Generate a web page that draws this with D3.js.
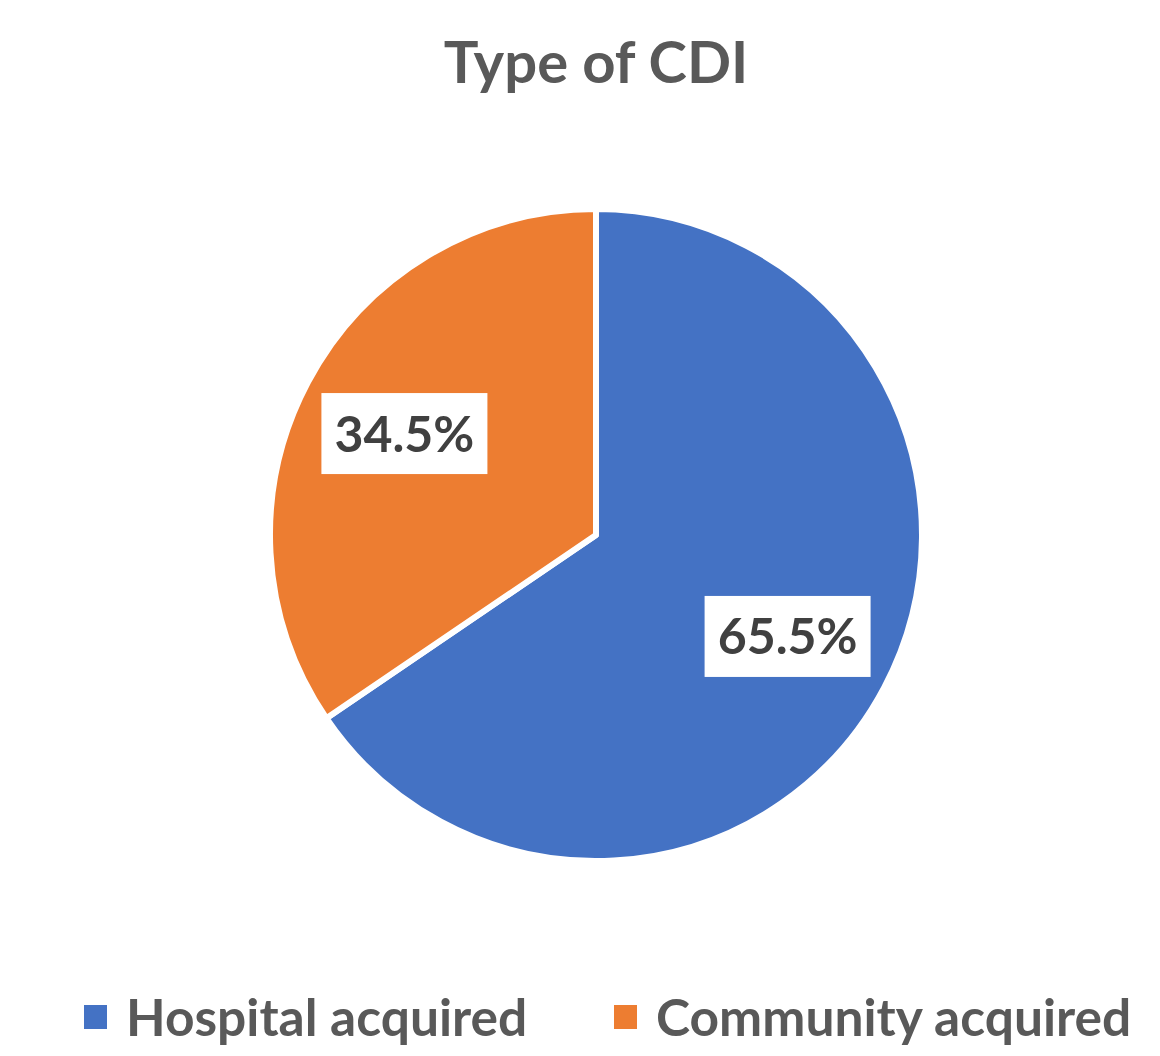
<!DOCTYPE html>
<html>
<head>
<meta charset="utf-8">
<script src="https://cdn.jsdelivr.net/npm/d3@7"></script>
<style>
  body { margin: 0; background: #fff; }
  svg { display: block; }
</style>
</head>
<body>
<div id="chart"></div>
<script>
const categories = ['Hospital acquired', 'Community acquired'];
const values = [65.5, 34.5];
const colors = ['#4472C4', '#ED7D31'];
const title = 'Type of CDI';

const width = 1160, height = 1056;
const cx = 596, cy = 535, radius = 326;
const font = 'Lato, "Open Sans", sans-serif';

const svg = d3
  .select('#chart')
  .append('svg')
  .attr('width', width)
  .attr('height', height);

// Title
svg
  .append('text')
  .attr('x', cx)
  .attr('y', 83)
  .attr('text-anchor', 'middle')
  .style('font-family', font)
  .style('font-weight', 'bold')
  .style('font-size', '58px')
  .style('fill', '#595959')
  .text(title);

const data = categories.map((c, i) => ({ name: c, value: values[i], color: colors[i] }));

const pie = d3.pie().sort(null).value((d) => d.value);
const arc = d3.arc().innerRadius(0).outerRadius(radius);
const labelArc = d3.arc().innerRadius(radius * 0.665).outerRadius(radius * 0.665);

const g = svg.append('g').attr('transform', `translate(${cx},${cy})`);

g.selectAll('path')
  .data(pie(data))
  .enter()
  .append('path')
  .attr('d', arc)
  .attr('fill', (d) => d.data.color)
  .attr('stroke', '#fff')
  .attr('stroke-width', 6)
  .attr('stroke-linejoin', 'round');

// Data labels in white boxes
const boxW = 166, boxH = 81;
const labels = g
  .selectAll('.label')
  .data(pie(data))
  .enter()
  .append('g')
  .attr('class', 'label')
  .attr('transform', (d) => `translate(${labelArc.centroid(d)})`);

labels
  .append('rect')
  .attr('x', -boxW / 2)
  .attr('y', -boxH / 2)
  .attr('width', boxW)
  .attr('height', boxH)
  .attr('fill', '#fff');

labels
  .append('text')
  .attr('text-anchor', 'middle')
  .attr('dy', '0.36em')
  .style('font-family', font)
  .style('font-weight', 'bold')
  .style('font-size', '50px')
  .style('fill', '#404040')
  .text((d) => d3.format('.1f')(d.data.value) + '%');

// Legend
const legendX = [84, 614];
const legend = svg
  .selectAll('.legend')
  .data(data)
  .enter()
  .append('g')
  .attr('class', 'legend')
  .attr('transform', (d, i) => `translate(${legendX[i]},1005)`);

legend
  .append('rect')
  .attr('width', 23)
  .attr('height', 24)
  .attr('fill', (d) => d.color);

legend
  .append('text')
  .attr('x', 42)
  .attr('y', 31)
  .style('font-family', font)
  .style('font-weight', 'bold')
  .style('font-size', '51.5px')
  .style('fill', '#595959')
  .text((d) => d.name);
</script>
</body>
</html>
